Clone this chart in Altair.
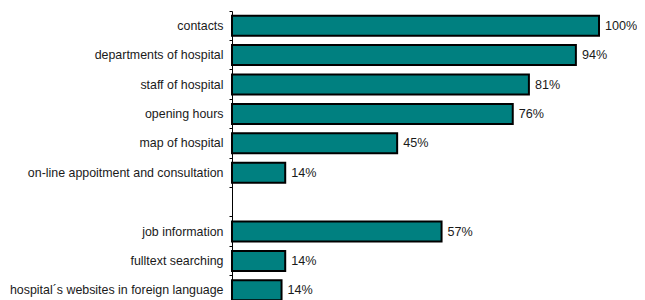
import altair as alt
import pandas as pd

categories = [
    "contacts",
    "departments of hospital",
    "staff of hospital",
    "opening hours",
    "map of hospital",
    "on-line appoitment and consultation",
    "job information",
    "fulltext searching",
    "hospital´s websites in foreign language",
]
values = [100, 93.7, 80.9, 76.5, 45.0, 14.5, 57.1, 14.5, 13.5]
labels = ["100%", "94%", "81%", "76%", "45%", "14%", "57%", "14%", "14%"]

# domain includes one empty slot between the two groups
domain = categories[:6] + [" "] + categories[6:]

df = pd.DataFrame({"cat": categories, "value": values, "label": labels})

FONT = "Liberation Sans"

y_enc = alt.Y(
    "cat:N",
    sort=domain,
    scale=alt.Scale(domain=domain, paddingInner=0, paddingOuter=0),
    axis=alt.Axis(
        title=None,
        bandPosition=0,
        tickSize=3,
        tickColor="black",
        domainColor="black",
        domainWidth=1,
        labelPadding=6,
        labelFont=FONT,
        labelFontSize=12.4,
        labelColor="#1a1a1a",
        grid=False,
        labelLimit=400,
    ),
)

x_enc = alt.X("value:Q", scale=alt.Scale(domain=[0, 100]), axis=None)

bars = alt.Chart(df).mark_bar(
    color="#008080", stroke="black", strokeWidth=2, height={"band": 0.68}
).encode(x=x_enc, y=y_enc)

text = alt.Chart(df).mark_text(
    align="left", baseline="middle", dx=6, font=FONT, fontSize=12.6, color="#1a1a1a"
).encode(x=x_enc, y=y_enc, text="label:N")

chart = (
    alt.layer(bars, text)
    .properties(
        width=367,
        height=294,
        autosize=alt.AutoSizeParams(type="none"),
        padding={"left": 224, "top": 3, "right": 38, "bottom": 0},
    )
    .configure_view(stroke=None)
)

chart.save("out.html", embed_options={"renderer": "svg", "actions": False})
